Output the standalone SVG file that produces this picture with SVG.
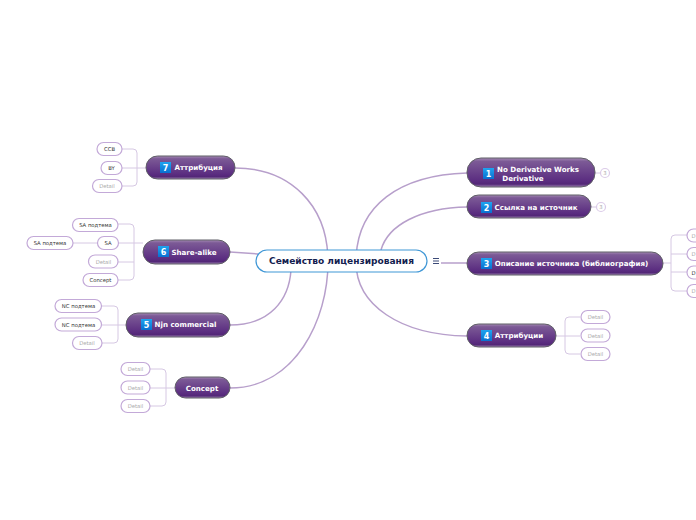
<svg xmlns="http://www.w3.org/2000/svg" width="696" height="520" viewBox="0 0 696 520">
<style>
text{font-family:"DejaVu Sans",Verdana,sans-serif;text-anchor:middle}
.m{fill:url(#g);stroke:#5f5f66;stroke-width:1}
.mt{font-size:7.1px;font-weight:bold;fill:#fff}
.b{fill:url(#bl)}
.bt{font-size:8px;font-weight:bold;fill:#fff}
.l{fill:#fff;stroke:#c3a9d8;stroke-width:1.2}
.lt{font-size:5.3px;fill:#333}
.dt{font-size:5.3px;fill:#aaa}
.c{fill:none;stroke:#b79fcb;stroke-width:1.5}
.s{fill:none;stroke:#d6c8e3;stroke-width:1}
</style>
<defs>
<linearGradient id="g" x1="0" y1="0" x2="0" y2="1">
<stop offset="0" stop-color="#a58ab4"/><stop offset=".12" stop-color="#7c5a96"/><stop offset=".8" stop-color="#5a2c80"/><stop offset=".9" stop-color="#532777"/><stop offset="1" stop-color="#9b7fb0"/>
</linearGradient>
<linearGradient id="bl" x1="0" y1="0" x2="0" y2="1"><stop offset="0" stop-color="#1ea4f0"/><stop offset="1" stop-color="#0a6fd0"/></linearGradient>
</defs>
<g id="connectors">
<path class="c" d="M235 168C290 168 328 205 328 262C328 320 295 388 230 388"/>
<path class="c" d="M230 252L258 254"/>
<path class="c" d="M291 270C289 300 270 325 230 325"/>
<path class="c" d="M467 173C400 175 356 205 356 262C356 305 400 335 467 336"/>
<path class="c" d="M467 207C420 208 388 225 381 250"/>
<path class="c" d="M441 263L467 263"/>
<path class="s" d="M122 149H133Q137 149 137 153V182Q137 186 133 186H122M122 168H146"/>
<path class="s" d="M118 224H130Q134 224 134 228V276Q134 280 130 280H118M118 243H143M118 262H134M73 243H97"/>
<path class="s" d="M102 306H114Q118 306 118 310V339Q118 343 114 343H102M102 325H126"/>
<path class="s" d="M150 369H162Q166 369 166 373V402Q166 406 162 406H150M150 388H175"/>
<path class="s" d="M595 173H600M591 207H596"/>
<path class="s" d="M663 263H671M687 235H675Q671 235 671 239V287Q671 291 675 291H687M671 254H687M671 272H687"/>
<path class="s" d="M556 336H580M580 317H569Q565 317 565 321V350Q565 354 569 354H580"/>
</g>
<g id="central"><rect x="256" y="250" width="171" height="22" rx="11" fill="#fff" stroke="#3f97d6" stroke-width="1.2"/><text x="341.500" y="264.200" font-size="9.050" font-weight="bold" fill="#13204f">Семейство лицензирования</text>
<path d="M433 258.500H439M433 261H439M433 263.500H439" stroke="#3c4a78" stroke-width="1"/></g>
<g id="n1"><rect class="m" x="467" y="158" width="128" height="29" rx="14"/><rect class="b" x="483" y="168" width="11" height="11"/><text class="bt" x="488.500" y="176.800">1</text><text class="mt" x="538" y="171.500">No Derivative Works</text><text class="mt" x="523" y="180.500">Derivative</text>
<circle class="l" cx="605" cy="173" r="4.500" stroke-opacity=".6"/><text class="dt" x="605" y="175">3</text></g>
<g id="n2"><rect class="m" x="467" y="195" width="124" height="23" rx="11.500"/><rect class="b" x="481" y="202" width="11" height="11"/><text class="bt" x="486.500" y="210.500">2</text><text class="mt" x="536" y="210">Ссылка на источник</text>
<circle class="l" cx="601" cy="207" r="4.500" stroke-opacity=".6"/><text class="dt" x="601" y="209">3</text></g>
<g id="n3"><rect class="m" x="467" y="252" width="196" height="23" rx="11.500"/><rect class="b" x="481" y="258" width="11" height="11"/><text class="bt" x="486.500" y="266.500">3</text><text class="mt" x="571.500" y="266">Описание источника (библиография)</text></g>
<g id="n4"><rect class="m" x="467" y="324" width="89" height="23" rx="11.500"/><rect class="b" x="481" y="330" width="11" height="11"/><text class="bt" x="486.500" y="338.500">4</text><text class="mt" x="519" y="338">Аттрибуции</text></g>
<g id="n5"><rect class="m" x="126" y="313" width="104" height="24" rx="12"/><rect class="b" x="141" y="319" width="11" height="11"/><text class="bt" x="146.500" y="327.500">5</text><text class="mt" x="185.500" y="327">Njn commercial</text></g>
<g id="n6"><rect class="m" x="143" y="240" width="87" height="24" rx="12"/><rect class="b" x="158" y="246" width="11" height="11"/><text class="bt" x="163.500" y="254.500">6</text><text class="mt" x="194" y="255">Share-alike</text></g>
<g id="n7"><rect class="m" x="146" y="156" width="89" height="23" rx="11.500"/><rect class="b" x="160" y="162" width="11" height="11"/><text class="bt" x="165.500" y="170.500">7</text><text class="mt" x="198.500" y="170">Аттрибуция</text></g>
<g id="n8"><rect class="m" x="175" y="377" width="55" height="21" rx="10.500"/><text class="mt" x="202" y="390.500">Concept</text></g>
<g id="l1"><rect class="l" x="97" y="142.500" width="25" height="13" rx="6.500"/><text class="lt" x="109.500" y="151">CCB</text></g>
<g id="l2"><rect class="l" x="101" y="161.500" width="21" height="13" rx="6.500"/><text class="lt" x="111.500" y="170">BY</text></g>
<g id="l3"><rect class="l" x="92.500" y="179.500" width="29.500" height="13" rx="6.500"/><text class="dt" x="107" y="188">Detail</text></g>
<g id="l4"><rect class="l" x="72.500" y="218.500" width="45.500" height="13" rx="6.500"/><text class="lt" x="95.500" y="227">SA подтема</text></g>
<g id="l5"><rect class="l" x="97.500" y="236.500" width="21" height="13" rx="6.500"/><text class="lt" x="108" y="245">SA</text></g>
<g id="l6"><rect class="l" x="27" y="236.500" width="46" height="13" rx="6.500"/><text class="lt" x="50" y="245">SA подтема</text></g>
<g id="l7"><rect class="l" x="88.500" y="255" width="29.500" height="13" rx="6.500"/><text class="dt" x="103.500" y="264">Detail</text></g>
<g id="l8"><rect class="l" x="83" y="273.500" width="35" height="13" rx="6.500"/><text class="lt" x="100.500" y="282">Concept</text></g>
<g id="l9"><rect class="l" x="55" y="299.500" width="46.500" height="13" rx="6.500"/><text class="lt" x="78.500" y="308">NC подтема</text></g>
<g id="l10"><rect class="l" x="55" y="318" width="46.500" height="13" rx="6.500"/><text class="lt" x="78.500" y="327">NC подтема</text></g>
<g id="l11"><rect class="l" x="72.500" y="336.500" width="29.500" height="13" rx="6.500"/><text class="dt" x="87" y="345">Detail</text></g>
<g id="l12"><rect class="l" x="121" y="362.500" width="29" height="13" rx="6.500"/><text class="dt" x="135.500" y="371">Detail</text></g>
<g id="l13"><rect class="l" x="121" y="381" width="29" height="13" rx="6.500"/><text class="dt" x="135.500" y="390">Detail</text></g>
<g id="l14"><rect class="l" x="121" y="399.500" width="29" height="13" rx="6.500"/><text class="dt" x="135.500" y="408">Detail</text></g>
<g id="l15"><rect class="l" x="581" y="310.500" width="29" height="13" rx="6.500"/><text class="dt" x="595.500" y="319">Detail</text></g>
<g id="l16"><rect class="l" x="581" y="329" width="29" height="13" rx="6.500"/><text class="dt" x="595.500" y="338">Detail</text></g>
<g id="l17"><rect class="l" x="581" y="347.500" width="29" height="13" rx="6.500"/><text class="dt" x="595.500" y="356">Detail</text></g>
<g id="l18"><rect class="l" x="687" y="229" width="29" height="13" rx="6.500"/><text class="dt" x="693.500" y="238">D</text></g>
<g id="l19"><rect class="l" x="687" y="247.500" width="29" height="13" rx="6.500"/><text class="dt" x="693.500" y="256">D</text></g>
<g id="l20"><rect class="l" x="687" y="266" width="29" height="13" rx="6.500"/><text class="lt" x="693.500" y="275">D</text></g>
<g id="l21"><rect class="l" x="687" y="284.500" width="29" height="13" rx="6.500"/><text class="dt" x="693.500" y="293">D</text></g>
</svg>
